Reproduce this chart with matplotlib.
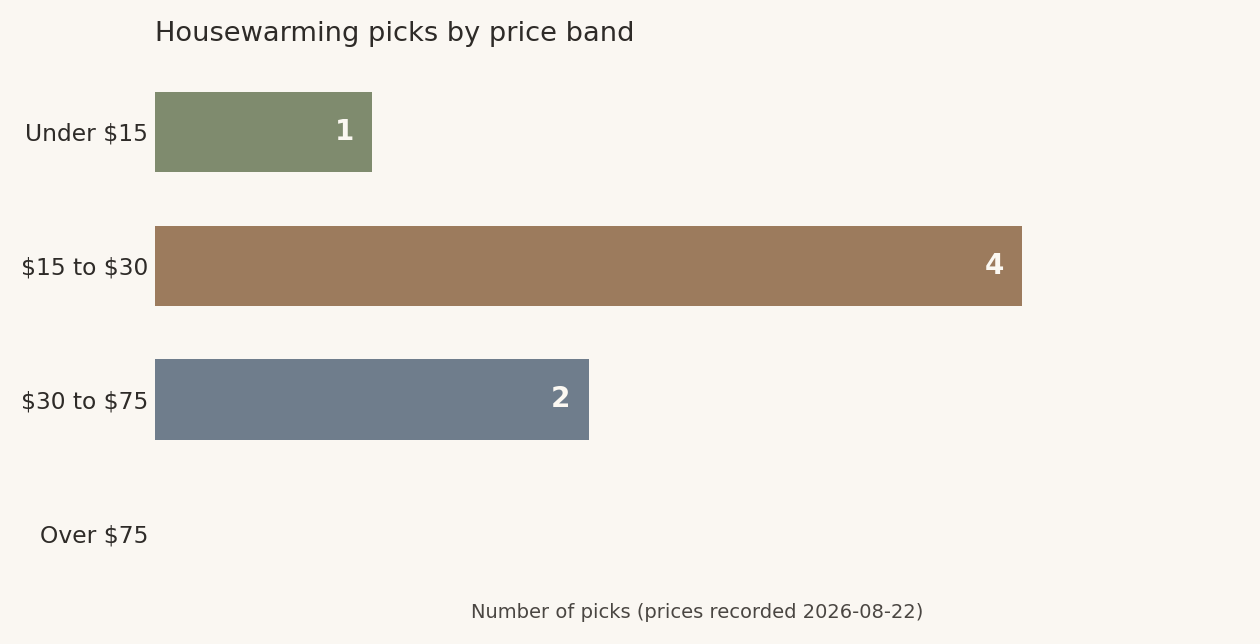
import matplotlib
matplotlib.use("Agg")
import matplotlib.pyplot as plt

categories = ["Under $15", "$15 to $30", "$30 to $75", "Over $75"]
counts = [1, 4, 2, 0]
colors = ["#7f8b6e", "#9c7b5d", "#6f7d8c", "#8a8a8a"]
title = "Housewarming picks by price band"
xlabel = "Number of picks (prices recorded 2026-08-22)"

bg = "#faf7f2"
text_color = "#2e2b28"

fig = plt.figure(figsize=(12.6, 6.44), dpi=100, facecolor=bg)
ax = fig.add_axes([155/1260, 44/644, 1084/1260, 535/644])
ax.set_facecolor(bg)

y = list(range(len(categories)))
bars = ax.barh(y, counts, height=0.6, color=colors)
ax.set_ylim(3.5, -0.5)
ax.set_xlim(0, 5)
ax.set_yticks(y)
labels = ax.set_yticklabels(categories, fontsize=16.8, color=text_color)
for t in labels:
    t.set_parse_math(False)
ax.set_xticks([])
ax.tick_params(axis="y", length=0, pad=5)
for s in ax.spines.values():
    s.set_visible(False)

for yi, v in zip(y, counts):
    if v > 0:
        ax.text(v - 0.083, yi, str(v), ha="right", va="center",
                color="#fbf8f2", fontsize=20, fontweight="bold")

ax.set_xlabel(xlabel, fontsize=14, color="#4a4642", labelpad=2)
fig.text(155/1260, 1 - 34/644, title, ha="left", va="center",
         fontsize=19.6, color=text_color)

fig.savefig("out.png", dpi=100, facecolor=bg)
